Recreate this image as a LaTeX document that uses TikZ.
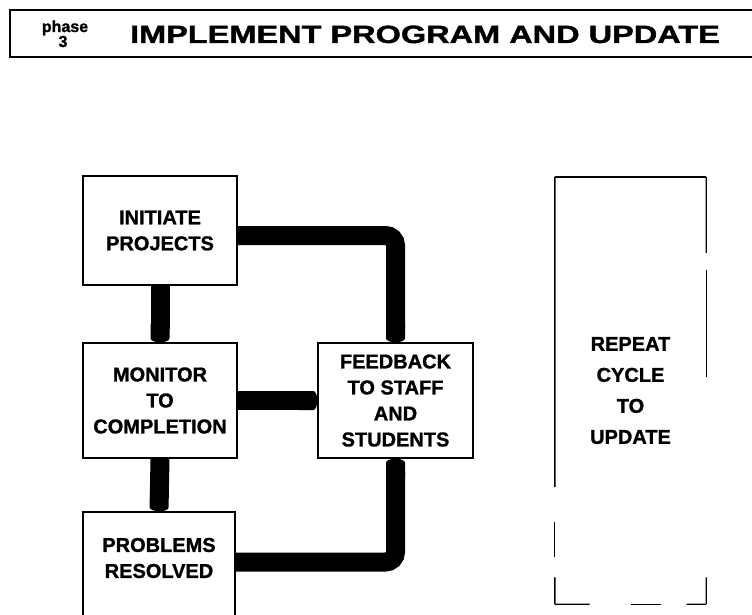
\documentclass[tikz,border=0pt]{standalone}
\usepackage{fontspec}
\usepackage{graphicx}
\setmainfont{Liberation Sans}[BoldFeatures={FakeBold=1.2}]
\usetikzlibrary{arrows.meta,calc}
\newcommand\boxtext{\fontsize{20}{26}\selectfont\bfseries}
\newcommand\tallboxtext{\fontsize{20}{31}\selectfont\bfseries}
\begin{document}
\begin{tikzpicture}[x=1pt,y=-1pt,
  stagebox/.style={draw, line width=1.4pt, inner sep=0pt, align=center, font=\boxtext},
  conn/.style={line width=19pt, black, rounded corners=10pt,
    -{Round Cap[length=4pt]}},
  edge/.style={line width=1.4pt, line cap=butt}]
  \useasboundingbox (0,0) rectangle (752,615);
  \fill[white] (0,0) rectangle (752,615);
  \clip (0,0) rectangle (752,615);

  % header frame, open on the right
  \draw[line width=1.5pt] (770,10) -- (10,10) -- (10,57) -- (770,57);
  \node[anchor=base, inner sep=0pt, font=\fontsize{16}{16}\selectfont\bfseries] (phase) at (65,32) {phase};
  \node[anchor=base, inner sep=0pt, font=\fontsize{16}{16}\selectfont\bfseries] (phasenum) at (63,47) {3};
  \node[anchor=base, inner sep=0pt] (title) at (425,43)
    {\scalebox{1.3}[1]{\fontsize{25}{30}\selectfont\bfseries IMPLEMENT PROGRAM AND UPDATE}};

  % process boxes
  \node[stagebox, minimum width=154pt, minimum height=109pt] (init) at (160,230.5)
    {INITIATE\\PROJECTS};
  \node[stagebox, minimum width=154pt, minimum height=115pt] (mon) at (160,400.5)
    {MONITOR\\TO\\COMPLETION};
  \node[stagebox, minimum width=152pt, minimum height=128pt] (prob) at (159,576) {};
  \node[inner sep=0pt, align=center, font=\boxtext] (probtext) at ([yshift=18pt]prob.center)
    {PROBLEMS\\RESOLVED};
  \node[stagebox, minimum width=155pt, minimum height=115pt] (fb) at (395.5,400.5)
    {FEEDBACK\\TO STAFF\\AND\\STUDENTS};

  % repeat box, its frame drawn in pieces
  \node[inner sep=0pt, minimum width=151pt, minimum height=427pt, align=center,
        font=\tallboxtext] (rep) at (630.5,390.5) {REPEAT\\CYCLE\\TO\\UPDATE};
  \draw[edge] (rep.north west) -- (rep.north east);
  \draw[edge] (rep.north east) -- ($(rep.north east)!0.178!(rep.south east)$);
  \draw[edge] ($(rep.north east)!0.218!(rep.south east)$) -- ($(rep.north east)!0.468!(rep.south east)$);
  \draw[edge] ($(rep.north east)!0.937!(rep.south east)$) -- (rep.south east);
  \draw[edge] (rep.north west) -- ($(rep.north west)!0.726!(rep.south west)$);
  \draw[edge, line width=1pt] ($(rep.north west)!0.808!(rep.south west)$) -- ($(rep.north west)!0.89!(rep.south west)$);
  \draw[edge] ($(rep.north west)!0.937!(rep.south west)$) -- (rep.south west);
  \draw[edge] (rep.south west) -- ($(rep.south west)!0.23!(rep.south east)$);
  \draw[edge] ($(rep.south west)!0.50!(rep.south east)$) -- ($(rep.south west)!0.70!(rep.south east)$);
  \draw[edge] ($(rep.south west)!0.87!(rep.south east)$) -- (rep.south east);

  % thick connectors
  \draw[conn] ([yshift=-5pt]init.east) -| (fb.north);
  \draw[conn] (mon.east) -- (fb.west);
  \draw[conn] (init.south) -- (mon.north);
  \draw[conn] (mon.south) -- (prob.north);
  \draw[conn] ([yshift=14pt]prob.east) -| (fb.south);
\end{tikzpicture}
\end{document}
